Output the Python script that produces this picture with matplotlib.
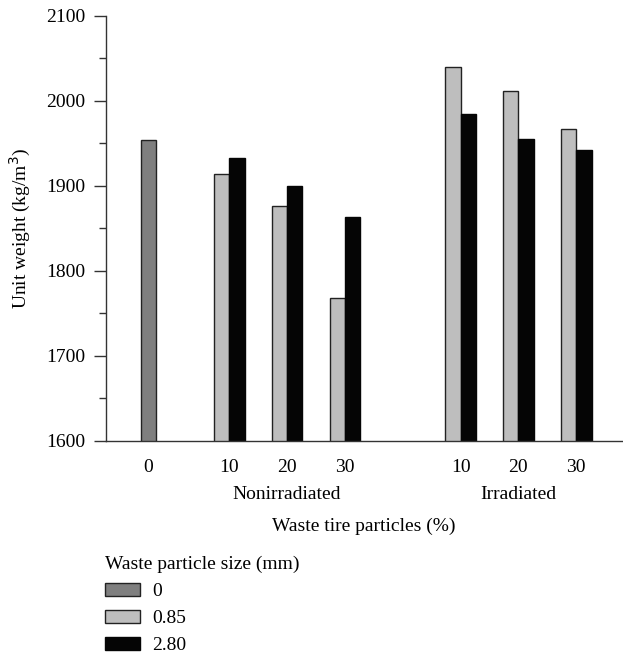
import numpy as np
import matplotlib.pyplot as plt
from matplotlib.ticker import MultipleLocator

# data
categories = ["0", "10", "20", "30", "", "10", "20", "30"]
groups = ["Nonirradiated", "Irradiated"]
sizes = ["0", "0.85", "2.80"]
control = [1954]                                    # size 0, only at 0 %
fine = [1914, 1877, 1768, 2040, 2012, 1967]         # 0.85 mm
coarse = [1933, 1900, 1864, 1985, 1955, 1942]       # 2.80 mm

colors = ["#7f7f7f", "#bebebe", "#050505"]

plt.rcParams['font.family'] = ['Liberation Serif', 'DejaVu Serif']
plt.rcParams['font.size'] = 14

fig = plt.figure(figsize=(6.23, 6.53), dpi=100)
ax = fig.add_axes([0.170, 0.3247, 0.828, 0.6508])

w = 0.265
cat_pos = np.arange(len(categories))
filled = np.array([1, 2, 3, 5, 6, 7])

b0 = ax.bar(cat_pos[:1] - w, control, width=w, color=colors[0],
            edgecolor="#222222", linewidth=1.0)
b1 = ax.bar(filled, fine, width=w, color=colors[1],
            edgecolor="#222222", linewidth=1.0)
b2 = ax.bar(filled + w, coarse, width=w, color=colors[2],
            edgecolor=colors[2], linewidth=1.0)

ax.set_ylim(1600, 2100)
ax.set_xlim(-1.0, 7.92)
ax.yaxis.set_major_locator(MultipleLocator(100))
ax.yaxis.set_minor_locator(MultipleLocator(50))

# tick labels sit under the visual centre of each cluster
tick_pos = [cat_pos[0] - w] + list(filled + w / 2)
tick_lab = [categories[0]] + [categories[i] for i in filled]
ax.set_xticks(tick_pos)
ax.set_xticklabels(tick_lab)
ax.tick_params(axis='x', length=0, pad=13)
ax.tick_params(axis='y', which='major', length=9, width=1.0, color="#333333", pad=6)
ax.tick_params(axis='y', which='minor', length=5, width=1.0, color="#333333")

for s in ["top", "right"]:
    ax.spines[s].set_visible(False)
for s in ["left", "bottom"]:
    ax.spines[s].set_color("#333333")
    ax.spines[s].set_linewidth(1.0)

ax.set_ylabel("Unit weight (kg/m$^{3}$)", labelpad=9)

# group labels under the tick labels
ax.text(np.mean(filled[:3] + w / 2), -0.125, groups[0], transform=ax.get_xaxis_transform(),
        ha="center", va="center")
ax.text(np.mean(filled[3:] + w / 2), -0.125, groups[1], transform=ax.get_xaxis_transform(),
        ha="center", va="center")
ax.text(0.5, -0.2, "Waste tire particles (%)", transform=ax.transAxes,
        ha="center", va="center")

leg = fig.legend([b0, b1, b2], sizes, title="Waste particle size (mm)",
                 loc="upper left", bbox_to_anchor=(0.168, 0.149),
                 frameon=False, alignment="left", handlelength=1.8,
                 handleheight=0.65, labelspacing=0.5, handletextpad=0.65,
                 borderaxespad=0, borderpad=0, title_fontsize=14)

fig.savefig("out.png", dpi=100)
